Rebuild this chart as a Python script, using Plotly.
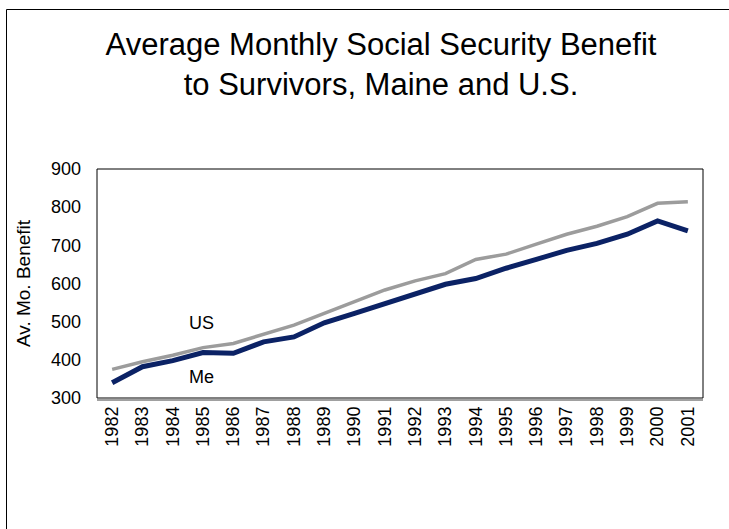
import plotly.graph_objects as go

years = [str(y) for y in range(1982, 2002)]
us_values = [375, 395, 412, 432, 443, 467, 491, 522, 552, 583, 607, 626, 663, 677, 703, 729, 750, 775, 810, 814]
me_values = [340, 382, 398, 419, 417, 447, 460, 497, 522, 548, 574, 598, 613, 640, 663, 687, 705, 729, 764, 738]
y_ticks = [300, 400, 500, 600, 700, 800, 900]

W, H = 729, 529
L, R, T, B = 97, 703, 169, 398

font = "Liberation Sans, Arial, sans-serif"

fig = go.Figure()
fig.add_trace(go.Scatter(x=years, y=us_values, mode="lines", name="US",
                         line=dict(color="#9C9C9C", width=3.5), hoverinfo="skip"))
fig.add_trace(go.Scatter(x=years, y=me_values, mode="lines", name="Me",
                         line=dict(color="#0B2265", width=5), hoverinfo="skip"))

def px_x(px):
    return (px - L) / (R - L)

def px_y(py):
    return (B - py) / (B - T)

top_y = px_y(9.5)
left_x = px_x(6.5)
shapes = [
    # outer chart border: top and left edges (the rest lies outside the picture)
    dict(type="line", xref="paper", yref="paper", x0=left_x, x1=px_x(W + 5), y0=top_y, y1=top_y,
         line=dict(color="black", width=1)),
    dict(type="line", xref="paper", yref="paper", x0=left_x, x1=left_x, y0=px_y(H + 5), y1=top_y,
         line=dict(color="black", width=1)),
    # plot area border
    dict(type="rect", xref="paper", yref="paper", x0=0, x1=1, y0=0, y1=1,
         line=dict(color="black", width=1), fillcolor="rgba(0,0,0,0)"),
    # second (gray) line under the x axis
    dict(type="line", xref="paper", yref="paper", x0=0, x1=1,
         y0=px_y(B + 2), y1=px_y(B + 2),
         line=dict(color="#808080", width=1.5)),
]

i_lab = years.index("1985")

fig.update_layout(
    width=W, height=H,
    margin=dict(l=L, r=W - R, t=T, b=H - B, pad=0),
    paper_bgcolor="white", plot_bgcolor="white",
    showlegend=False,
    hovermode=False,
    font=dict(family=font, color="black", size=18),
    title=dict(text="Average Monthly Social Security Benefit<br>to Survivors, Maine and U.S.",
               x=381 / W, xref="container", xanchor="center",
               y=1 - 55 / H, yanchor="middle",
               font=dict(family=font, size=31, color="black")),
    xaxis=dict(type="category", showgrid=False, zeroline=False, showline=False,
               ticks="", tickangle=-90, tickfont=dict(size=18), ticklabelstandoff=4,
               range=[-0.5, len(years) - 0.5]),
    yaxis=dict(range=[300, 900], tickvals=y_ticks, showgrid=False, zeroline=False,
               showline=False, ticks="", tickfont=dict(size=18), ticklabelstandoff=15,
               title=dict(text="Av. Mo. Benefit", font=dict(size=19), standoff=15)),
    shapes=shapes,
    annotations=[
        dict(x=i_lab, y=us_values[i_lab], text="US", showarrow=False,
             xref="x", yref="y", xshift=-2, yshift=25, font=dict(size=18)),
        dict(x=i_lab, y=me_values[i_lab], text="Me", showarrow=False,
             xref="x", yref="y", xshift=-2, yshift=-24, font=dict(size=18)),
    ],
)

fig.write_html(
    "out.html",
    config={"displayModeBar": False, "staticPlot": True},
    post_script="document.body.style.margin='0';document.body.style.overflow='hidden';",
)
